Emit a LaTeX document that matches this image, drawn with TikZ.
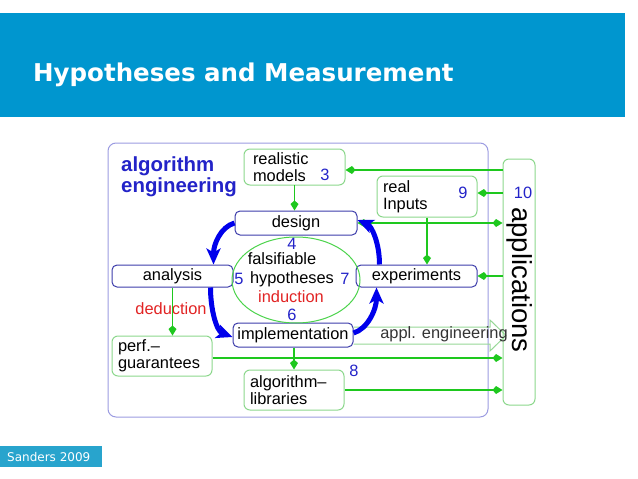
\documentclass[tikz,border=0pt]{standalone}
\usepackage{fontspec}
\setmainfont{Liberation Sans}
\newfontfamily\slidefont{DejaVu Sans}
\usetikzlibrary{arrows.meta,shapes.geometric}

\definecolor{barblue}{RGB}{0,150,207}
\definecolor{footblue}{RGB}{40,164,205}
\definecolor{boxblue}{RGB}{60,60,170}
\definecolor{framelav}{RGB}{155,155,225}
\definecolor{linegreen}{RGB}{30,200,30}
\definecolor{boxgreen}{RGB}{140,215,140}
\definecolor{hollowgreen}{RGB}{150,215,150}
\definecolor{numblue}{RGB}{35,35,200}
\definecolor{indred}{RGB}{225,35,35}
\definecolor{cycleblue}{RGB}{0,0,235}

\tikzset{
  every node/.style={font=\fontsize{16.4}{17}\selectfont},
  bluebox/.style={draw=boxblue, line width=1, rounded corners=5, inner sep=0},
  greenbox/.style={draw=boxgreen, line width=1, rounded corners=6, align=left, inner ysep=0},
  num/.style={text=numblue},
  garrow/.style={draw=linegreen, line width=1.3, -{Kite[length=10,width=8,inset=3.5]}},
  cyclearrow/.style={draw=cycleblue, line width=5, -{Stealth[length=16,width=14,inset=4]}}
}

\begin{document}
\begin{tikzpicture}[x=1pt,y=-1pt]
\useasboundingbox (0,0) rectangle (638,479);

% Titelbalken
\fill[barblue] (0,13) rectangle (625,117);
\node[anchor=base west, inner sep=0, text=white, font=\slidefont\bfseries\fontsize{24.5}{26}\selectfont] (title) at (33,81) {Hypotheses and Measurement};

% Fusszeile
\fill[footblue] (0,446) rectangle (102,467);
\node[anchor=base west, text=white, font=\slidefont\fontsize{12}{13}\selectfont, inner sep=0] (foot) at (7,461) {Sanders 2009};

% Rahmen
\draw[framelav, line width=1, rounded corners=8] (108,143) rectangle (488,417);
\node[anchor=north west, align=left, inner sep=0, text=numblue, font=\bfseries\fontsize{20.4}{21}\selectfont] (algeng) at (121,157) {algorithm\\engineering};

% Kaesten
\node[greenbox, text width=83, inner xsep=9, minimum height=36] (models) at (294.5,167) {realistic\\models};
\node[greenbox, text width=88, inner xsep=6, minimum height=41] (inputs) at (427,196.5) {real\\Inputs};
\node[greenbox, text width=88, inner xsep=6, minimum height=40] (perf) at (162,356) {perf.--\\guarantees};
\node[greenbox, text width=88, inner xsep=6, minimum height=40] (libs) at (294,390) {algorithm--\\libraries};
\node[greenbox, minimum width=32, minimum height=246, inner sep=0] (apps) at (519,282) {};
\node[rotate=-90, font=\fontsize{27.5}{28}\selectfont] (appstext) at (520,280) {applications};

\node[bluebox, minimum width=122, minimum height=24] (design) at (296,223) {design};
\node[bluebox, minimum width=121, minimum height=22] (analysis) at (172.5,276) {analysis};
\node[bluebox, minimum width=121, minimum height=22] (experiments) at (416.5,276) {experiments};
\node[bluebox, minimum width=120, minimum height=24] (implementation) at (293,335) {implementation};

% Hypothesen-Ellipse
\node[ellipse, draw=linegreen!80, line width=1, minimum width=128, minimum height=86] (hyp) at (296,280) {};
\node[inner sep=0] (falsifiable) at (282,259) {falsifiable};
\node[inner sep=0] (hypotheses) at (292,279) {hypotheses};
\node[inner sep=0, text=indred] (induction) at (291,297) {induction};
\node[inner sep=0, text=indred] (deduction) at (171,309) {deduction};

% Nummern
\node[num] (n3) at (325,175) {3};
\node[num] (n4) at (292,244) {4};
\node[num] (n5) at (239,279) {5};
\node[num] (n6) at (292,315) {6};
\node[num] (n7) at (345,279) {7};
\node[num] (n8) at (354,371) {8};
\node[num] (n9) at (463,193) {9};
\node[num] (n10) at (523,193) {10};

% appl. engineering (hohler Pfeil)
\draw[hollowgreen, line width=1] (implementation.east |- 0,327) coordinate (ae1) -- (490,327) -- (490,320) -- (506,335.5) -- (490,351) -- (490,344) -- (implementation.east |- 0,344);
\node[text=black!80] (appleng) at (444,334) {appl. engineering};

% gruene Verbindungen
\draw[garrow] (apps.west |- 0,170) -- (models.east |- 0,170);
\draw[garrow] (apps.west |- 0,193) -- (inputs.east |- 0,193);
\draw[garrow, {Kite[length=10,width=8,inset=3.5]}-{Kite[length=10,width=8,inset=3.5]}] (design.east) -- (apps.west |- design.east);
\draw[garrow] (inputs.south) -- (inputs.south |- experiments.north);
\draw[garrow] (apps.west |- experiments.east) -- (experiments.east);
\draw[garrow] (models.south |- 0,185) -- (models.south |- design.north);
\draw[garrow] (analysis.south) -- (analysis.south |- perf.north);
\draw[garrow] (implementation.south -| libs.north) -- (libs.north);
\draw[garrow] ([yshift=-2]perf.east) -- ([yshift=-2]perf.east -| apps.west);
\draw[garrow] (libs.east) -- (libs.east -| apps.west);

% blaue Kreislauf-Pfeile
\draw[cyclearrow] (design.west) .. controls +(-14,4) and +(0,-20) .. ([xshift=-20]analysis.north east);
\draw[cyclearrow] ([xshift=-23]analysis.south east) .. controls +(0,22) and +(-16,-6) .. ([yshift=-2]implementation.west);
\draw[cyclearrow] ([yshift=2]implementation.east) .. controls +(14,-4) and +(0,22) .. ([xshift=21]experiments.south west);
\draw[cyclearrow] ([xshift=24]experiments.north west) .. controls +(0,-22) and +(14,6) .. ([yshift=3]design.east);

\end{tikzpicture}
\end{document}
